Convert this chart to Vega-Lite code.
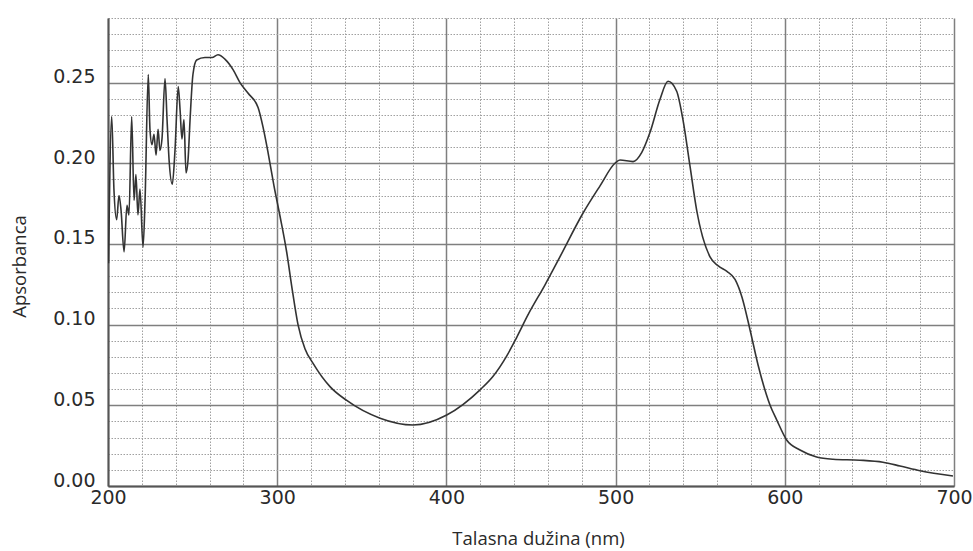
{
  "$schema": "https://vega.github.io/schema/vega-lite/v6.json",
  "autosize": {"type": "none"},
  "padding": {"left": 108, "top": 18, "right": 19, "bottom": 65},
  "width": 846,
  "height": 468,
  "background": "white",
  "config": {
    "view": {"stroke": null},
    "axis": {
      "labelFont": "DejaVu Sans",
      "labelFontSize": 19,
      "labelColor": "#2a2a2a",
      "titleFont": "Open Sans",
      "titleFontWeight": "normal",
      "titleColor": "#2a2a2a",
      "titleFontSize": 18.5,
      "ticks": false,
      "domainColor": "#555555",
      "domainWidth": 2
    }
  },
  "data": {
    "values": [
      {"nm": 200.3, "A": 0.138},
      {"nm": 202.2, "A": 0.229},
      {"nm": 203.5, "A": 0.184},
      {"nm": 205.1, "A": 0.165},
      {"nm": 206.5, "A": 0.18},
      {"nm": 207.7, "A": 0.171},
      {"nm": 209.5, "A": 0.145},
      {"nm": 211.2, "A": 0.174},
      {"nm": 212.4, "A": 0.168},
      {"nm": 214.0, "A": 0.229},
      {"nm": 215.4, "A": 0.177},
      {"nm": 216.5, "A": 0.193},
      {"nm": 217.7, "A": 0.168},
      {"nm": 218.9, "A": 0.184},
      {"nm": 220.7, "A": 0.148},
      {"nm": 221.9, "A": 0.177},
      {"nm": 223.8, "A": 0.255},
      {"nm": 224.8, "A": 0.221},
      {"nm": 226.0, "A": 0.2115},
      {"nm": 227.2, "A": 0.218},
      {"nm": 228.4, "A": 0.205},
      {"nm": 229.6, "A": 0.221},
      {"nm": 230.7, "A": 0.208},
      {"nm": 231.9, "A": 0.215},
      {"nm": 233.7, "A": 0.2525},
      {"nm": 234.9, "A": 0.227},
      {"nm": 236.1, "A": 0.202},
      {"nm": 238.0, "A": 0.187},
      {"nm": 239.6, "A": 0.208},
      {"nm": 241.5, "A": 0.2475},
      {"nm": 242.6, "A": 0.233},
      {"nm": 243.7, "A": 0.215},
      {"nm": 244.9, "A": 0.227},
      {"nm": 246.1, "A": 0.194},
      {"nm": 247.3, "A": 0.202},
      {"nm": 248.5, "A": 0.227},
      {"nm": 250.2, "A": 0.255},
      {"nm": 252.4, "A": 0.264},
      {"nm": 257.3, "A": 0.2655},
      {"nm": 261.5, "A": 0.2655},
      {"nm": 265.0, "A": 0.2672},
      {"nm": 269.1, "A": 0.2645},
      {"nm": 273.9, "A": 0.258},
      {"nm": 278.0, "A": 0.25},
      {"nm": 282.7, "A": 0.2435},
      {"nm": 288.7, "A": 0.2345},
      {"nm": 291.6, "A": 0.2225},
      {"nm": 294.6, "A": 0.2066},
      {"nm": 298.1, "A": 0.186},
      {"nm": 301.7, "A": 0.167},
      {"nm": 305.6, "A": 0.145},
      {"nm": 308.7, "A": 0.123},
      {"nm": 312.3, "A": 0.1},
      {"nm": 316.4, "A": 0.085},
      {"nm": 321.2, "A": 0.076},
      {"nm": 331.2, "A": 0.0616},
      {"nm": 341.1, "A": 0.053},
      {"nm": 360.8, "A": 0.042},
      {"nm": 380.3, "A": 0.0378},
      {"nm": 400.2, "A": 0.044},
      {"nm": 419.9, "A": 0.0596},
      {"nm": 427.6, "A": 0.068},
      {"nm": 435.6, "A": 0.0805},
      {"nm": 441.5, "A": 0.092},
      {"nm": 448.2, "A": 0.106},
      {"nm": 458.3, "A": 0.1247},
      {"nm": 467.1, "A": 0.142},
      {"nm": 480.7, "A": 0.169},
      {"nm": 490.8, "A": 0.186},
      {"nm": 499.6, "A": 0.2},
      {"nm": 502.6, "A": 0.202},
      {"nm": 510.3, "A": 0.201},
      {"nm": 515.4, "A": 0.2066},
      {"nm": 520.3, "A": 0.219},
      {"nm": 526.2, "A": 0.2395},
      {"nm": 531.0, "A": 0.2508},
      {"nm": 536.1, "A": 0.2446},
      {"nm": 539.8, "A": 0.227},
      {"nm": 544.0, "A": 0.198},
      {"nm": 547.9, "A": 0.171},
      {"nm": 555.8, "A": 0.142},
      {"nm": 560.5, "A": 0.1365},
      {"nm": 565.8, "A": 0.133},
      {"nm": 570.6, "A": 0.128},
      {"nm": 574.7, "A": 0.117},
      {"nm": 579.4, "A": 0.097},
      {"nm": 584.2, "A": 0.075},
      {"nm": 591.3, "A": 0.05},
      {"nm": 595.2, "A": 0.041},
      {"nm": 601.1, "A": 0.0285},
      {"nm": 609.0, "A": 0.0223},
      {"nm": 618.8, "A": 0.018},
      {"nm": 628.5, "A": 0.0166},
      {"nm": 644.4, "A": 0.016},
      {"nm": 658.0, "A": 0.0147},
      {"nm": 668.1, "A": 0.0124},
      {"nm": 679.9, "A": 0.0095},
      {"nm": 699.4, "A": 0.0062}
    ]
  },
  "mark": {"type": "line", "color": "#333333", "strokeWidth": 1.6, "interpolate": "monotone", "clip": true},
  "encoding": {
    "x": {
      "field": "nm",
      "type": "quantitative",
      "scale": {"domain": [200, 700], "nice": false, "zero": false},
      "axis": {
        "title": "Talasna dužina (nm)",
        "values": [200, 220, 240, 260, 280, 300, 320, 340, 360, 380, 400, 420, 440, 460, 480, 500, 520, 540, 560, 580, 600, 620, 640, 660, 680, 700],
        "labelExpr": "datum.value % 100 === 0 ? datum.label : ''",
        "format": "d",
        "labelPadding": 2,
        "labelFlush": false,
        "labelOverlap": false,
        "titleX": 430,
        "titleY": 58,
        "titleBaseline": "alphabetic",
        "grid": true,
        "gridDash": {"condition": {"test": "datum.value % 100 === 0", "value": []}, "value": [1.5, 1.5]},
        "gridWidth": {"condition": {"test": "datum.value % 100 === 0", "value": 1.5}, "value": 1},
        "gridColor": {"condition": {"test": "datum.value % 100 === 0", "value": "#7f7f7f"}, "value": "#a0a0a0"}
      }
    },
    "y": {
      "field": "A",
      "type": "quantitative",
      "scale": {"domain": [0, 0.29], "nice": false},
      "axis": {
        "title": "Apsorbanca",
        "values": [0, 0.01, 0.02, 0.03, 0.04, 0.05, 0.06, 0.07, 0.08, 0.09, 0.1, 0.11, 0.12, 0.13, 0.14, 0.15, 0.16, 0.17, 0.18, 0.19, 0.2, 0.21, 0.22, 0.23, 0.24, 0.25, 0.26, 0.27, 0.28, 0.29],
        "format": ".2f",
        "labelExpr": "round(datum.value * 100) % 5 === 0 ? datum.label : ''",
        "labelPadding": 13,
        "labelBaseline": "alphabetic",
        "labelOverlap": false,
        "labelFlush": false,
        "titleX": -89,
        "titleY": 248,
        "titleAngle": -90,
        "titleAlign": "center",
        "titleBaseline": "middle",
        "grid": true,
        "gridDash": {"condition": {"test": "round(datum.value * 100) % 5 === 0", "value": []}, "value": [1.5, 1.5]},
        "gridWidth": {"condition": {"test": "round(datum.value * 100) % 5 === 0", "value": 1.5}, "value": 1},
        "gridColor": {"condition": {"test": "round(datum.value * 100) % 5 === 0", "value": "#7f7f7f"}, "value": "#a0a0a0"}
      }
    }
  }
}
